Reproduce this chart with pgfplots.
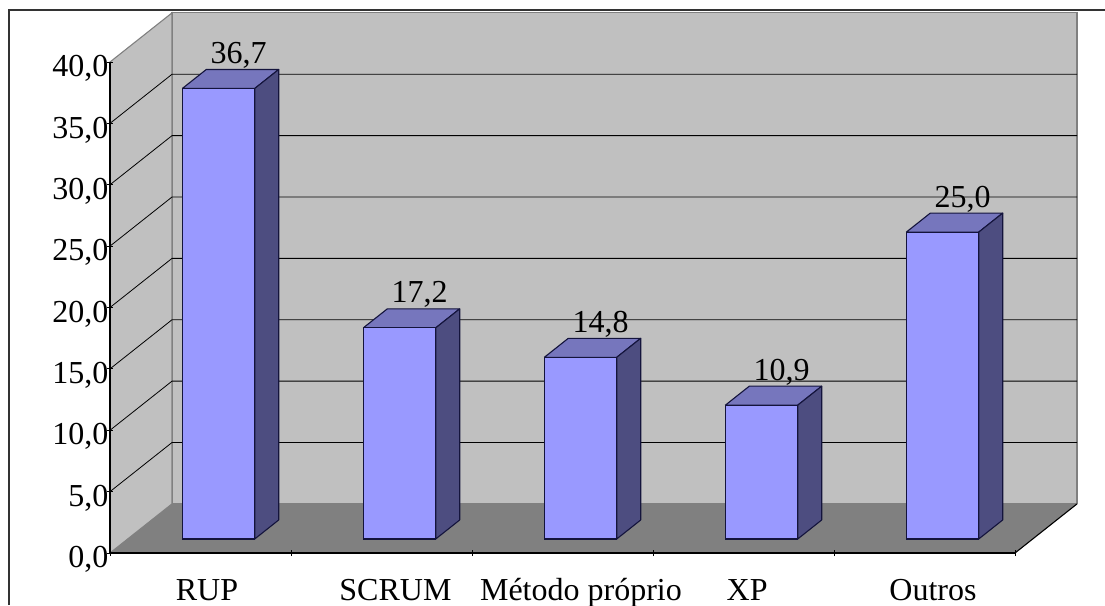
\documentclass[border=0pt]{standalone}
\usepackage{fontspec}
\setmainfont{Liberation Serif}
\usepackage{pgfplots}
\pgfplotsset{compat=1.18}
\usepackage{pgfplotstable}

\definecolor{wall}{HTML}{C0C0C0}
\definecolor{floorc}{HTML}{808080}
\definecolor{barfront}{HTML}{9999FF}
\definecolor{bartop}{HTML}{7676BD}
\definecolor{barside}{HTML}{4D4D80}
\definecolor{barline}{HTML}{14143C}

% top and side faces of one bar: x position, value
\newcommand{\threedbar}[2]{%
  \pgfmathsetmacro{\xa}{#1-0.2}
  \pgfmathsetmacro{\xb}{#1+0.2}
  \pgfmathsetmacro{\xc}{#1+0.2+0.1326}
  \pgfmathsetmacro{\xd}{#1-0.2+0.1326}
  \pgfmathsetmacro{\yt}{#2+1.55}
  \addplot[draw=barline,line width=1.1pt,fill=bartop,line join=round] coordinates {(\xa,#2) (\xb,#2) (\xc,\yt) (\xd,\yt) (\xa,#2)};
  \addplot[draw=barline,line width=1.1pt,fill=barside,line join=round] coordinates {(\xb,0) (\xc,1.55) (\xc,\yt) (\xb,#2) (\xb,0)};
}

\pgfplotstableread{
x y
0 36.7
1 17.2
2 14.8
3 10.9
4 25.0
}\shares

\begin{document}
\begin{tikzpicture}[x=1pt,y=1pt]
\path[use as bounding box] (0,0) rectangle (1105,605);
\draw[black!80,line width=1.3pt] (9,0) -- (9,595) -- (1105,595);

% walls, floor, gridlines, ticks
\begin{axis}[
  at={(110pt,52pt)},anchor=south west,
  scale only axis,width=905pt,height=491pt,
  xmin=0,xmax=5,ymin=0,ymax=40,
  clip=false,axis on top,
  axis x line=bottom,axis y line=left,
  axis line style={-,black,line width=1.1pt},
  tick style={black,line width=0.9pt},
  major tick length=6pt,
  xtick={0,1,2,3,4,5},xticklabels={},
  extra x ticks={0.536,1.577,2.602,3.52,4.547},
  extra x tick labels={RUP,SCRUM,Método próprio,XP,Outros},
  extra x tick style={major tick length=0pt},
  ytick={0,5,...,40},
  x tick label style={anchor=base,yshift=-47pt},
  y tick label style={xshift=5pt,yshift=-6.5pt},
  tick label style={font=\fontsize{32}{36}\selectfont},
  /pgf/number format/.cd,fixed,fixed zerofill,precision=1,use comma,assume math mode=true,
]
\addplot[draw=floorc,line width=1.1pt,fill=wall] coordinates {(0.3425,4) (5.3425,4) (5.3425,44) (0.3425,44) (0.3425,4)};
\addplot[draw=floorc,line width=1.1pt,fill=wall] coordinates {(0,0) (0.3425,4) (0.3425,44) (0,40) (0,0)};
\addplot[draw=none,fill=floorc] coordinates {(0,0) (5,0) (5.3425,4) (0.3425,4) (0,0)};
\addplot[black,line width=1.1pt] coordinates {(5,0) (5.3425,4)};
\addplot[black,line width=0.8pt] coordinates {(0,5) (0.3425,9) (5.3425,9)};
\addplot[black,line width=0.8pt] coordinates {(0,10) (0.3425,14) (5.3425,14)};
\addplot[black,line width=0.8pt] coordinates {(0,15) (0.3425,19) (5.3425,19)};
\addplot[black,line width=0.8pt] coordinates {(0,20) (0.3425,24) (5.3425,24)};
\addplot[black,line width=0.8pt] coordinates {(0,25) (0.3425,29) (5.3425,29)};
\addplot[black,line width=0.8pt] coordinates {(0,30) (0.3425,34) (5.3425,34)};
\addplot[black,line width=0.8pt] coordinates {(0,35) (0.3425,39) (5.3425,39)};
\end{axis}

% bars stand on their own plane, inside the floor
\begin{axis}[
  at={(128pt,66pt)},anchor=south west,
  scale only axis,width=905pt,height=491pt,
  xmin=-0.5,xmax=4.5,ymin=0,ymax=40,
  clip=false,hide axis,
  /pgf/number format/.cd,fixed,fixed zerofill,precision=1,use comma,assume math mode=true,
]
\threedbar{0}{36.7}
\threedbar{1}{17.2}
\threedbar{2}{14.8}
\threedbar{3}{10.9}
\threedbar{4}{25.0}
\addplot[ybar,bar shift=0pt,bar width=72.4pt,draw=barline,line width=1.1pt,fill=barfront,
  point meta=y,nodes near coords,
  every node near coord/.append style={font=\fontsize{32}{36}\selectfont,text=black,anchor=base,xshift=20pt,yshift=25pt,inner sep=0pt},
] table[x=x,y=y] {\shares};
\end{axis}
\end{tikzpicture}
\end{document}
